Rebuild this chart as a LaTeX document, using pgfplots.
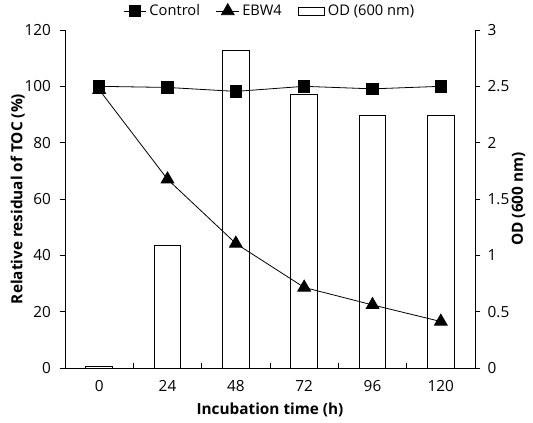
\documentclass[border=0pt]{standalone}
\usepackage{fontspec}
\setmainfont{Open Sans}
\usepackage{pgfplots}
\pgfplotsset{compat=1.18}

\pgfplotsset{
  base/.style={
    scale only axis, width=307.5pt, height=253.5pt,
    xmin=-0.5, xmax=5.5,
    axis line style={-, line width=0.6pt},
    every tick/.style={black, line width=0.6pt},
    major tick length=4pt, minor tick length=4pt,
    /pgf/number format/assume math mode=true,
    tick label style={font=\fontsize{11.5}{13}\selectfont},
    label style={font=\bfseries\fontsize{11.5}{13}\selectfont},
  },
  odbox/.style={
    legend image code/.code={\draw[draw=black, fill=white, line width=0.6pt] (0pt,-3pt) rectangle (20pt,3pt);}
  },
}

\begin{document}
\begin{tikzpicture}
\path[use as bounding box] (-48.75pt,-41.25pt) rectangle (351pt,276pt);

% OD bars, right axis
\begin{axis}[base,
    axis x line=none, axis y line*=right,
    tick align=outside,
    ymin=0, ymax=3, ytick={0,0.5,...,3},
    yticklabel style={xshift=2pt},
    ylabel={OD (600 nm)},
    ylabel style={yshift=5pt},
    ybar, bar width=20pt,
]
\addplot[draw=black, fill=white, line width=0.6pt, bar shift=0pt] coordinates {
    (0,0.01) (1,1.09) (2,2.82) (3,2.43) (4,2.24) (5,2.24)
};
\end{axis}

% x axis only
\begin{axis}[base,
    axis y line=none, axis x line*=bottom,
    tick align=inside,
    ymin=0, ymax=120,
    xtick={0,1,2,3,4,5},
    xticklabels={0,24,48,72,96,120},
    xticklabel style={yshift=-6pt},
    major x tick style={draw=none},
    minor xtick={-0.5,0.5,...,5.5},
    xlabel={Incubation time (h)},
    xlabel style={yshift=-1pt},
]
\end{axis}

% TOC lines, left axis
\begin{axis}[base,
    axis x line=none, axis y line*=left,
    tick align=outside,
    ymin=0, ymax=120, ytick={0,20,...,120},
    yticklabel style={xshift=-3pt},
    ylabel={Relative residual of TOC (\%)},
    ylabel style={yshift=-7pt},
    legend columns=3,
    legend style={draw=none, fill=none, at={(0.5,1.02)}, anchor=south,
        font=\fontsize{11}{13}\selectfont,
        /tikz/every even column/.append style={column sep=10pt}},
]
\addplot[black, line width=0.6pt, mark=square*, mark size=4.2pt] coordinates {
    (0,100) (1,99.6) (2,98.2) (3,100) (4,99.1) (5,100)
};
\addlegendentry{Control}
\addplot[black, line width=0.6pt, mark=triangle*, mark size=5.5pt] coordinates {
    (0,98.8) (1,67) (2,44.2) (3,28.6) (4,22.4) (5,16.5)
};
\addlegendentry{EBW4}
\addlegendimage{odbox}
\addlegendentry{OD (600 nm)}
\end{axis}
\end{tikzpicture}
\end{document}
